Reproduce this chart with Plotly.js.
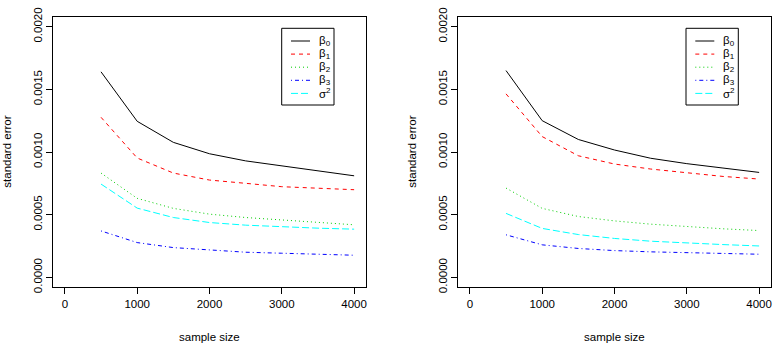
<!DOCTYPE html>
<html>
<head>
<meta charset="utf-8">
<script src="https://cdn.plot.ly/plotly-3.0.1.min.js"></script>
<style>
  html, body { margin: 0; padding: 0; background: #fff; }
  #chart { width: 776px; height: 346px; }
</style>
</head>
<body>
<div id="chart"></div>
<script>
// Sample sizes used in both simulation studies
const sampleSize = [500, 1000, 1500, 2000, 2500, 3000, 3500, 4000];

// Series labels (rich text) for the parameters
const seriesNames = ["β<sub>0</sub>", "β<sub>1</sub>", "β<sub>2</sub>", "β<sub>3</sub>", "σ<sup>2</sup>"];

// Standard errors, left panel
const leftBeta0 = [0.00164, 0.001245, 0.001077, 0.000986, 0.000929, 0.00089, 0.000849, 0.00081];
const leftBeta1 = [0.001277, 0.000952, 0.000832, 0.000776, 0.00075, 0.000723, 0.000711, 0.000699];
const leftBeta2 = [0.000832, 0.00063, 0.00055, 0.000504, 0.000477, 0.000456, 0.000437, 0.000419];
const leftSigma2 = [0.000744, 0.000552, 0.000477, 0.000437, 0.000416, 0.000403, 0.000392, 0.000384];
const leftBeta3 = [0.00037, 0.000277, 0.000237, 0.000216, 0.0002, 0.000192, 0.000184, 0.000176];

// Standard errors, right panel
const rightBeta0 = [0.00165, 0.00125, 0.0011, 0.001016, 0.00095, 0.000907, 0.000872, 0.000837];
const rightBeta1 = [0.001464, 0.001123, 0.00097, 0.000904, 0.000864, 0.000832, 0.000805, 0.000784];
const rightBeta2 = [0.000712, 0.00055, 0.000485, 0.00045, 0.000424, 0.000403, 0.000387, 0.000373];
const rightSigma2 = [0.00051, 0.00039, 0.000341, 0.00031, 0.000288, 0.000272, 0.000261, 0.00025];
const rightBeta3 = [0.000339, 0.000259, 0.00023, 0.000213, 0.000203, 0.000195, 0.000189, 0.000184];

// Axis ticks
const xTicks = [0, 1000, 2000, 3000, 4000];
const yTicks = [0, 0.0005, 0.001, 0.0015, 0.002];
const yTickText = ["0.0000", "0.0005", "0.0010", "0.0015", "0.0020"];

// Line styles (R palette 1:5 and lty 1:5)
const colors = ["#000000", "#FF0000", "#00CD00", "#0000FF", "#00FFFF"];
const dashes = ["solid", "4px,4px", "1px,3px", "1px,3px,4px,3px", "7px,3px"];

const W = 776, H = 346;
const FONT = "Liberation Sans, Arial, Helvetica, sans-serif";

// pixel -> paper helpers (margins are zero, so paper spans the whole figure)
const px = v => v / W;
const py = v => 1 - v / H;

const panels = [
  { xa: "x", ya: "y", left: 53.3, right: 365.7, legendLeft: 281.7,
    series: [leftBeta0, leftBeta1, leftBeta2, leftBeta3, leftSigma2] },
  { xa: "x2", ya: "y2", left: 458.3, right: 770.7, legendLeft: 686,
    series: [rightBeta0, rightBeta1, rightBeta2, rightBeta3, rightSigma2] }
];
const plotTop = 16.7, plotBottom = 287.3;

const traces = [];
const shapes = [];
const annotations = [];

panels.forEach(p => {
  p.series.forEach((vals, i) => {
    traces.push({
      x: sampleSize, y: vals, xaxis: p.xa, yaxis: p.ya,
      type: "scatter", mode: "lines", name: seriesNames[i],
      line: { color: colors[i], width: 1, dash: dashes[i] },
      showlegend: false, hoverinfo: "skip"
    });
  });

  // legend box
  const L = p.legendLeft, R = L + 52.3, T = 28.3, B = 105;
  shapes.push({ type: "rect", xref: "paper", yref: "paper",
    x0: px(L), x1: px(R), y0: py(B), y1: py(T),
    line: { color: "#000", width: 1 }, fillcolor: "rgba(0,0,0,0)" });
  seriesNames.forEach((nm, i) => {
    const rowY = 41 + i * 13.1;
    shapes.push({ type: "line", xref: "paper", yref: "paper",
      x0: px(L + 9.3), x1: px(L + 28.3), y0: py(rowY), y1: py(rowY),
      line: { color: colors[i], width: 1, dash: dashes[i] } });
    annotations.push({ xref: "paper", yref: "paper", x: px(L + 35), y: py(rowY),
      xanchor: "left", yanchor: "middle", showarrow: false, text: nm,
      font: { family: FONT, size: 11.5, color: "#000" } });
  });

  // axis titles
  const cx = (p.left + p.right) / 2;
  annotations.push({ xref: "paper", yref: "paper", x: px(cx), y: py(336.5),
    xanchor: "center", yanchor: "middle", showarrow: false, text: "sample size",
    font: { family: FONT, size: 11.5, color: "#000" } });
  annotations.push({ xref: "paper", yref: "paper", x: px(p.left - 46.6), y: py(152),
    xanchor: "center", yanchor: "middle", showarrow: false, text: "standard error",
    textangle: -90, font: { family: FONT, size: 11.5, color: "#000" } });
});

function xAxis(p) {
  return {
    domain: [px(p.left), px(p.right)], range: [-160, 4160],
    tickvals: xTicks, ticktext: xTicks.map(String),
    ticks: "outside", ticklen: 6, tickwidth: 1, tickcolor: "#000",
    showline: true, mirror: true, linecolor: "#000", linewidth: 1,
    showgrid: false, zeroline: false, anchor: p.ya,
    tickfont: { family: FONT, size: 11.5, color: "#000" }, automargin: false
  };
}
function yAxis(p) {
  return {
    domain: [py(plotBottom), py(plotTop)], range: [-0.00008, 0.00208],
    tickvals: yTicks, ticktext: yTickText, tickangle: -90,
    ticks: "outside", ticklen: 6, tickwidth: 1, tickcolor: "#000",
    showline: true, mirror: true, linecolor: "#000", linewidth: 1,
    showgrid: false, zeroline: false, anchor: p.xa,
    tickfont: { family: FONT, size: 11.5, color: "#000" }, automargin: false
  };
}

const layout = {
  width: W, height: H,
  margin: { l: 0, r: 0, t: 0, b: 0 },
  paper_bgcolor: "#fff", plot_bgcolor: "#fff",
  showlegend: false,
  xaxis: xAxis(panels[0]), yaxis: yAxis(panels[0]),
  xaxis2: xAxis(panels[1]), yaxis2: yAxis(panels[1]),
  shapes: shapes, annotations: annotations
};

Plotly.newPlot("chart", traces, layout, { staticPlot: true, displayModeBar: false });
</script>
</body>
</html>
